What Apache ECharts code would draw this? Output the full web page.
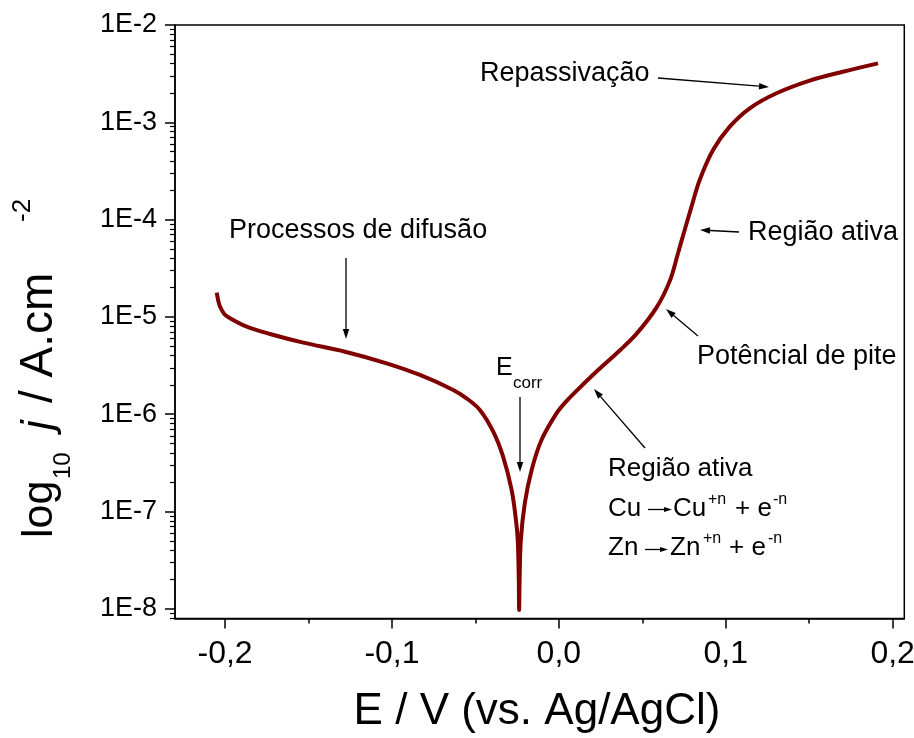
<!DOCTYPE html>
<html>
<head>
<meta charset="utf-8">
<script src="https://cdn.jsdelivr.net/npm/echarts@6/dist/echarts.min.js"></script>
<style>
  html, body { margin: 0; padding: 0; background: #fff; }
  #chart { width: 914px; height: 738px; }
</style>
</head>
<body>
<div id="chart"></div>
<script>
// potencial (V vs Ag/AgCl) e log10 da densidade de corrente (A/cm2)
var potential = [
  -0.2050, -0.2040, -0.2030, -0.2005, -0.1970, -0.1870, -0.1731, -0.1531,
  -0.1281, -0.1032, -0.0832, -0.0633, -0.0553, -0.0473, -0.0393, -0.0334,
  -0.0283, -0.0257, -0.0246, -0.0240, -0.0238, -0.0235, -0.0228, -0.0204,
  -0.0163, -0.0104, -0.0014, 0.0046, 0.0106, 0.0205, 0.0265, 0.0365,
  0.0465, 0.0585, 0.0665, 0.0714, 0.0754, 0.0795, 0.0844, 0.0924,
  0.1024, 0.1144, 0.1304, 0.1503, 0.1702, 0.1912
];
var logJ = [
  -4.751, -4.840, -4.895, -4.970, -5.014, -5.101, -5.176, -5.265,
  -5.358, -5.477, -5.597, -5.751, -5.837, -5.957, -6.180, -6.437,
  -6.779, -7.087, -7.300, -7.700, -8.010, -7.700, -7.300, -6.916,
  -6.573, -6.265, -5.991, -5.865, -5.760, -5.595, -5.500, -5.345,
  -5.175, -4.905, -4.630, -4.346, -4.107, -3.867, -3.593, -3.285,
  -3.045, -2.856, -2.702, -2.572, -2.480, -2.394
];

var xTicks = [-0.2, -0.1, 0, 0.1, 0.2];
var xMinorTicks = [-0.15, -0.05, 0.05, 0.15];
var yTicks = [-8, -7, -6, -5, -4, -3, -2];
var yMin = -8.1, yMax = -2;
var xMin = -0.23, xMax = 0.207;

// minor ticks of a log axis: log10(k * 10^n)
var yMinorTicks = [];
for (var d = -9; d <= -3; d++) {
  for (var k = 2; k <= 9; k++) {
    var v = d + Math.log10(k);
    if (v > yMin && v < yMax) yMinorTicks.push(v);
  }
}

var FONT = '"Liberation Sans", Arial, Helvetica, sans-serif';
var chart = echarts.init(document.getElementById('chart'));

// text placed by its baseline
function txt(s, x, base, size, extra) {
  var st = { text: s, x: x, y: base - 0.35 * size, fill: '#000',
    font: (extra && extra.italic ? 'italic ' : '') + size + 'px ' + FONT,
    align: (extra && extra.align) || 'left', verticalAlign: 'middle' };
  return { type: 'text', style: st, z: 100 };
}

function arrow(x1, y1, x2, y2, head) {
  head = head || 10;
  var a = Math.atan2(y2 - y1, x2 - x1);
  var w = head * 0.32;
  var bx = x2 - head * Math.cos(a), by = y2 - head * Math.sin(a);
  return [
    { type: 'line', shape: { x1: x1, y1: y1, x2: bx, y2: by }, style: { stroke: '#000', lineWidth: 1.3 }, z: 100 },
    { type: 'polygon', shape: { points: [[x2, y2],
        [bx + w * Math.sin(a), by - w * Math.cos(a)],
        [bx - w * Math.sin(a), by + w * Math.cos(a)]] }, style: { fill: '#000' }, z: 100 }
  ];
}

var g = [];
g.push(txt('Repassivação', 480, 83, 27));
g = g.concat(arrow(658, 78, 769, 87));
g.push(txt('Região ativa', 748, 242, 27));
g = g.concat(arrow(739, 232, 700, 230));
g.push(txt('Potêncial de pite', 697, 366, 27));
g = g.concat(arrow(698, 336, 666, 309));
g.push(txt('Processos de difusão', 229, 240, 27));
g = g.concat(arrow(346, 258, 346, 339));
g.push(txt('E', 496, 377, 25));
g.push(txt('corr', 513, 389, 17));
g = g.concat(arrow(520, 397, 520, 472));
g.push(txt('Região ativa', 608, 478, 26));
g = g.concat(arrow(645, 448, 594, 389));
g.push(txt('Cu', 608, 518, 26));
g = g.concat(arrow(648, 509.5, 672, 509.5, 8));
g.push(txt('Cu', 673, 518, 26));
g.push(txt('+n', 708, 505, 16));
g.push(txt('+ e', 735, 518, 26));
g.push(txt('-n', 773, 505, 16));
g.push(txt('Zn', 608, 557, 26));
g = g.concat(arrow(645, 549.5, 668, 549.5, 8));
g.push(txt('Zn', 670, 557, 26));
g.push(txt('+n', 703, 544, 16));
g.push(txt('+ e', 729, 557, 26));
g.push(txt('-n', 768, 544, 16));

// axis titles
g.push(txt('E / V (vs. Ag/AgCl)', 537, 727, 44, { align: 'center' }));
g.push({
  type: 'group', x: 55, y: 538, rotation: Math.PI / 2,
  children: [
    txt('log', 0, 0, 43),
    txt('10', 59, 17, 24),
    txt('j', 108, 0, 44, { italic: true }),
    txt('/ A.cm', 135, 0, 46),
    txt('-2', 316, -23, 26)
  ]
});

chart.setOption({
  animation: false,
  grid: {
    left: 175, top: 25, width: 729.3, height: 593.5,
    show: true, borderColor: '#000', borderWidth: 1.5,
    outerBoundsMode: 'none'
  },
  xAxis: [{
    type: 'value', min: xMin, max: xMax, position: 'bottom',
    axisLine: { onZero: false, lineStyle: { color: '#000', width: 1.5 } },
    axisTick: { customValues: xTicks, length: 10, lineStyle: { color: '#000', width: 1.5 } },
    axisLabel: {
      customValues: xTicks, color: '#000', fontSize: 32, fontFamily: FONT, margin: 20,
      formatter: function (v) { return v.toFixed(1).replace('.', ','); }
    },
    splitLine: { show: false }
  }, {
    type: 'value', min: xMin, max: xMax, position: 'bottom',
    axisLine: { show: false, onZero: false },
    axisTick: { customValues: xMinorTicks, length: 5, lineStyle: { color: '#000', width: 1.5 } },
    axisLabel: { show: false },
    splitLine: { show: false }
  }],
  yAxis: [{
    type: 'value', min: yMin, max: yMax, position: 'left',
    axisLine: { onZero: false, lineStyle: { color: '#000', width: 1.5 } },
    axisTick: { customValues: yTicks, length: 10, lineStyle: { color: '#000', width: 1.5 } },
    axisLabel: {
      customValues: yTicks, color: '#000', fontSize: 27, fontFamily: FONT, margin: 18,
      formatter: function (v) { return '1E' + Math.round(v); }
    },
    splitLine: { show: false }
  }, {
    type: 'value', min: yMin, max: yMax, position: 'left',
    axisLine: { show: false, onZero: false },
    axisTick: { customValues: yMinorTicks, length: 5, lineStyle: { color: '#000', width: 1.2 } },
    axisLabel: { show: false },
    splitLine: { show: false }
  }],
  series: [{
    type: 'line',
    xAxisIndex: 0, yAxisIndex: 0,
    data: potential.map(function (e, i) { return [e, logJ[i]]; }),
    showSymbol: false,
    smooth: 0.35,
    lineStyle: { color: '#800000', width: 4 }
  }],
  graphic: g
});
</script>
</body>
</html>
